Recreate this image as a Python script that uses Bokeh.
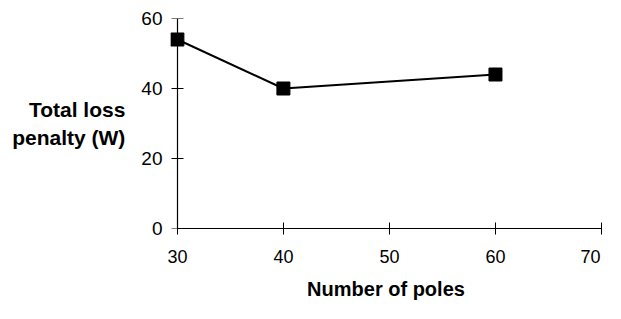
from bokeh.plotting import figure
from bokeh.models import Range1d, FixedTicker, LinearAxis
from bokeh.embed import file_html
from bokeh.resources import INLINE

poles = [30, 40, 60]
loss_penalty = [54, 40, 44]
x_ticks = [30, 40, 50, 60, 70]
y_ticks = [0, 20, 40, 60]
x_title = "Number of poles"
y_title = "Total loss\npenalty (W)"

FONT = "Liberation Sans"

p = figure(width=605, height=303, output_backend="svg", toolbar_location=None,
           x_range=Range1d(29.35, 70), y_range=Range1d(0, 60),
           min_border_left=170, min_border_right=4, min_border_top=18, min_border_bottom=75)
p.outline_line_color = None
p.xgrid.visible = False
p.ygrid.visible = False
p.border_fill_color = "white"

p.line(poles, loss_penalty, line_color="black", line_width=2)
p.scatter(poles, loss_penalty, marker="square", size=13, fill_color="black", line_color="black")

# x axis
xa = p.xaxis[0]
xa.bounds = (30, 70)
xa.ticker = FixedTicker(ticks=x_ticks)
xa.major_label_overrides = {70: "70\u00a0"}
xa.axis_line_color = "black"
xa.axis_line_width = 1.2
xa.major_tick_in = 6
xa.major_tick_out = 6
xa.minor_tick_line_color = None
xa.major_label_text_font = FONT
xa.major_label_text_font_size = "18px"
xa.major_label_text_color = "black"
xa.major_label_standoff = 12
xa.axis_label = x_title
xa.axis_label_text_font = FONT
xa.axis_label_text_font_size = "20px"
xa.axis_label_text_font_style = "bold"
xa.axis_label_text_color = "black"
xa.axis_label_standoff = 8

# y axis line and ticks at x = 30
ya = p.yaxis[0]
ya.fixed_location = 30
ya.ticker = FixedTicker(ticks=y_ticks)
ya.axis_line_color = "black"
ya.axis_line_width = 1.2
ya.major_tick_in = 6
ya.major_tick_out = 6
ya.minor_tick_line_color = None
ya.major_label_text_font_size = "0px"
ya.major_label_text_alpha = 0
ya.major_label_standoff = 0

# y tick labels and horizontal title
yb = LinearAxis(ticker=FixedTicker(ticks=y_ticks))
yb.axis_line_color = None
yb.major_tick_line_color = None
yb.major_tick_in = 0
yb.major_tick_out = 0
yb.minor_tick_line_color = None
yb.major_label_text_font = FONT
yb.major_label_text_font_size = "19px"
yb.major_label_text_color = "black"
yb.major_label_standoff = 8
yb.axis_label = y_title
yb.axis_label_orientation = "horizontal"
yb.axis_label_text_font = FONT
yb.axis_label_text_font_size = "21px"
yb.axis_label_text_font_style = "bold"
yb.axis_label_text_color = "black"
yb.axis_label_standoff = 13
p.add_layout(yb, "left")

open("out.html", "w").write(file_html(p, INLINE))
